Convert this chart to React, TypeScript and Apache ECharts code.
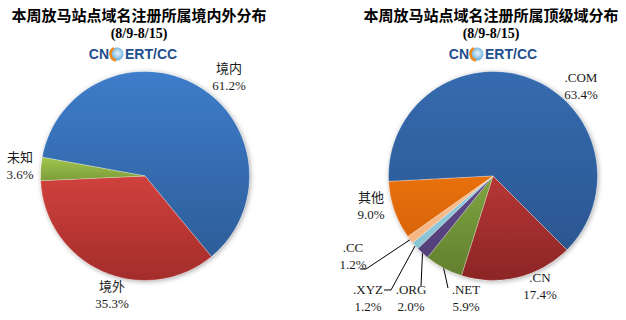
import React, { useEffect, useRef } from "react";
import * as echarts from "echarts";

const leftNames = ["境内", "境外", "未知"];
const leftValues = [61.2, 35.3, 3.6];
const rightNames = [".COM", ".CN", ".NET", ".ORG", ".XYZ", ".CC", "其他"];
const rightValues = [63.4, 17.4, 5.9, 2.0, 1.2, 1.2, 9.0];

const leftTitle = "本周放马站点域名注册所属境内外分布";
const rightTitle = "本周放马站点域名注册所属顶级域分布";
const dateText = "(8/9-8/15)";

const leftColors: [string, string][] = [
  ["#3e7dca", "#2d5d99"],
  ["#d0413d", "#a32d2b"],
  ["#a2c64f", "#7d9c3a"],
];
const rightColors: [string, string][] = [
  ["#356bb0", "#2b5690"],
  ["#b63735", "#8c2525"],
  ["#7fa540", "#627f2f"],
  ["#614b8c", "#524078"],
  ["#93cddd", "#8cc3d4"],
  ["#fac090", "#f6b482"],
  ["#e8700c", "#d9650a"],
];

// label layout (positions in px)
const leftLabelPos = [[229, 77], [112, 295], [20, 166]];
const rightLabelPos = [[581, 86], [540, 286], [466, 298], [411, 298], [368, 298], [353, 256], [371, 206]];
const rightLineEnds: (number[][] | null)[] = [
  null,
  null,
  [[448, 288]],
  [[421, 286]],
  [[391, 290], [384, 290]],
  [[366, 269], [360, 269]],
  null,
];

const labelFont = "'Liberation Serif', 'Noto Sans CJK SC', serif";

function grad(c: [string, string]) {
  return {
    type: "linear",
    x: 0,
    y: 0,
    x2: 0,
    y2: 1,
    colorStops: [
      { offset: 0, color: c[0] },
      { offset: 1, color: c[1] },
    ],
  };
}

function logo(cx: number, cy: number) {
  return {
    type: "group",
    children: [
      {
        type: "text",
        x: cx - 8,
        y: cy,
        style: {
          text: "CN",
          fill: "#1f4f8f",
          font: "bold 14px 'Liberation Sans', Arial, sans-serif",
          textAlign: "right",
          textVerticalAlign: "middle",
        },
      },
      {
        type: "circle",
        shape: { cx, cy, r: 6.5 },
        style: {
          fill: {
            type: "radial",
            x: 0.55,
            y: 0.45,
            r: 0.6,
            colorStops: [
              { offset: 0, color: "#e8f4fb" },
              { offset: 1, color: "#5aa7da" },
            ],
          },
        },
      },
      {
        type: "arc",
        shape: { cx, cy, r: 6.5, startAngle: Math.PI * 0.55, endAngle: Math.PI * 1.35, clockwise: true },
        style: { stroke: "#f08a1c", lineWidth: 2.5, fill: "none" },
      },
      {
        type: "text",
        x: cx + 8,
        y: cy,
        style: {
          text: "ERT/CC",
          fill: "#1f4f8f",
          font: "bold 14px 'Liberation Sans', Arial, sans-serif",
          textAlign: "left",
          textVerticalAlign: "middle",
        },
      },
    ],
  };
}

function titleTexts(cx: number, text: string) {
  return [
    {
      type: "text",
      x: cx,
      y: 14,
      style: {
        text,
        fill: "#000",
        font: "bold 15px 'Noto Sans CJK SC', sans-serif",
        textAlign: "center",
        textVerticalAlign: "middle",
      },
    },
    {
      type: "text",
      x: cx,
      y: 33,
      style: {
        text: dateText,
        fill: "#000",
        font: "bold 14px 'Liberation Serif', serif",
        textAlign: "center",
        textVerticalAlign: "middle",
      },
    },
  ];
}

export default function App() {
  const ref = useRef<HTMLDivElement>(null);
  useEffect(() => {
    document.body.style.margin = "0";
    const chart = echarts.init(ref.current!, null, { renderer: "svg" });
    const fmt = (p: any) => `${p.name}\n${Number(p.value).toFixed(1)}%`;
    const labelStyle = {
      show: true,
      formatter: fmt,
      fontFamily: labelFont,
      fontSize: 13,
      lineHeight: 17,
      color: "#1a1a1a",
      align: "center",
    };
    const bg = (center: number[]) => ({
      type: "pie",
      silent: true,
      center,
      radius: 104.5,
      z: 1,
      label: { show: false },
      labelLine: { show: false },
      itemStyle: { color: "#fff", shadowBlur: 5, shadowColor: "rgba(0,0,0,0.35)", shadowOffsetX: 1, shadowOffsetY: 1 },
      data: [{ value: 1, name: "" }],
      tooltip: { show: false },
    });
    chart.setOption({
      animation: false,
      graphic: [
        ...titleTexts(139, leftTitle),
        ...titleTexts(491, rightTitle),
        logo(117, 54),
        logo(477, 54),
      ],
      series: [
        bg([145, 176]),
        bg([493, 176]),
        {
          type: "pie",
          center: [145, 176],
          radius: 104.5,
          startAngle: 169.6,
          clockwise: true,
          avoidLabelOverlap: false,
          z: 2,
          label: labelStyle,
          labelLine: { show: false },
          itemStyle: { borderColor: "rgba(255,255,255,0.5)", borderWidth: 0.5 },
          data: leftNames.map((n, i) => ({
            name: n,
            value: leftValues[i],
            itemStyle: { color: grad(leftColors[i]) },
          })),
          labelLayout: (p: any) => ({
            x: leftLabelPos[p.dataIndex][0],
            y: leftLabelPos[p.dataIndex][1],
            align: "center",
            verticalAlign: "middle",
          }),
        },
        {
          type: "pie",
          center: [493, 176],
          radius: 104.5,
          startAngle: 183,
          clockwise: true,
          avoidLabelOverlap: false,
          z: 2,
          label: labelStyle,
          labelLine: { show: true, length: 10, length2: 10, lineStyle: { color: "#000", width: 1 } },
          itemStyle: { borderColor: "rgba(255,255,255,0.5)", borderWidth: 0.5 },
          data: rightNames.map((n, i) => ({
            name: n,
            value: rightValues[i],
            itemStyle: { color: grad(rightColors[i]) },
            labelLine: { show: rightLineEnds[i] != null },
          })),
          labelLayout: (p: any) => {
            const i = p.dataIndex;
            const out: any = {
              x: rightLabelPos[i][0],
              y: rightLabelPos[i][1],
              align: "center",
              verticalAlign: "middle",
            };
            const ends = rightLineEnds[i];
            if (ends && p.labelLinePoints && p.labelLinePoints[0]) {
              out.labelLinePoints = [p.labelLinePoints[0], ...ends];
            }
            return out;
          },
        },
      ],
    });
    return () => chart.dispose();
  }, []);
  return <div ref={ref} style={{ width: 626, height: 320 }} />;
}
